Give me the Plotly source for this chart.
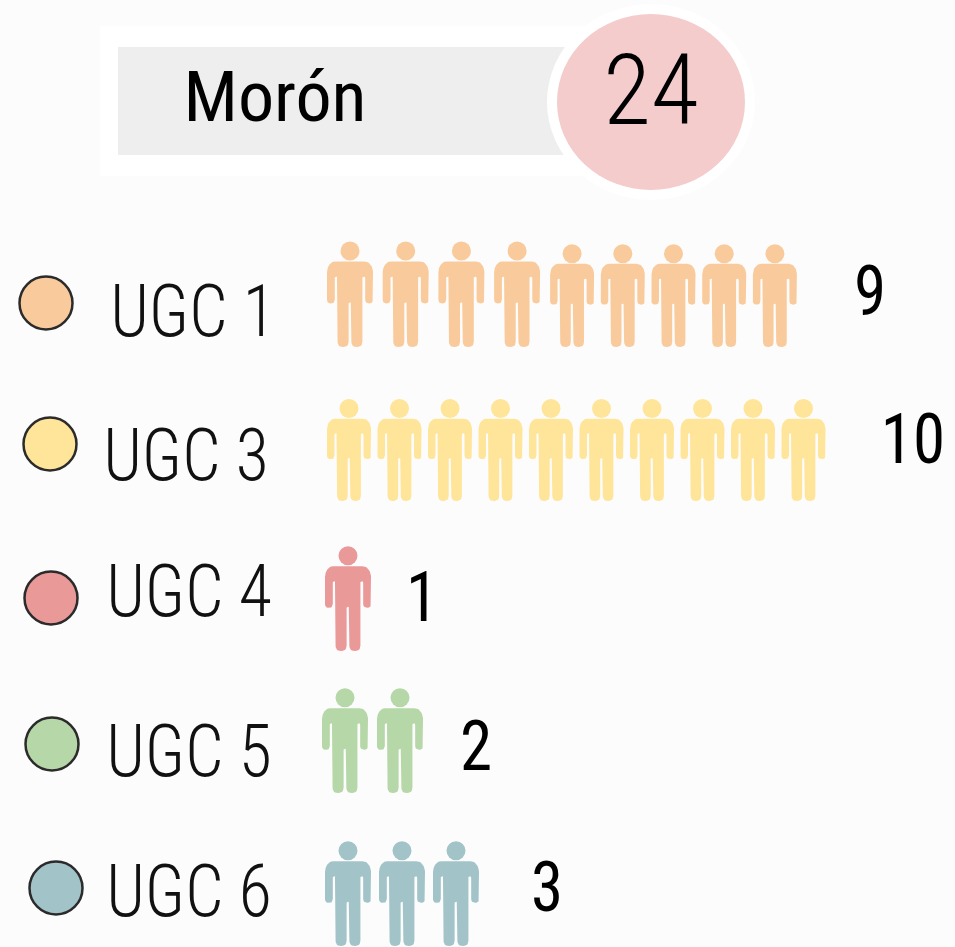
import math
import plotly.graph_objects as go

# ---- data ----
title = "Morón"
total = 24
categories = ["UGC 1", "UGC 3", "UGC 4", "UGC 5", "UGC 6"]
counts = [9, 10, 1, 2, 3]
colors = ["#f9cb9c", "#ffe599", "#ea9999", "#b6d7a8", "#a2c4c9"]

# ---- layout (pixels on a 955x947 canvas) ----
W, H = 955, 947
FONT = "Roboto Condensed, Roboto"
dot_x = [46, 50, 51, 52, 56]
dot_y = [303, 444, 598, 744, 888]
label_x = [193, 186, 189, 189, 189]
label_y = [318, 462, 598, 758, 898]
num_x = [870, 913, 422, 476, 547]
num_y = [297, 445, 603, 752, 893]
icon_start = [350, 349, 348, 345, 348]
icon_pitch = [55.7, 50.5, 0, 55, 54]
icon_feet = [347, 501, 651, 793, 946]
icon_w = [46, 44, 46, 46, 46]
icon_h = [105, 101, 104, 104, 104]


def rounded(corners, r):
    """Round the corners of a closed polygon."""
    xs, ys = [], []
    n = len(corners)
    for i, (cx, cy) in enumerate(corners):
        ax, ay = corners[i - 1]
        bx, by = corners[(i + 1) % n]
        la = math.hypot(ax - cx, ay - cy)
        lb = math.hypot(bx - cx, by - cy)
        rr = min(r, la / 2, lb / 2)
        p0 = (cx + (ax - cx) / la * rr, cy + (ay - cy) / la * rr)
        p2 = (cx + (bx - cx) / lb * rr, cy + (by - cy) / lb * rr)
        for k in range(7):
            t = k / 6
            xs.append((1 - t) ** 2 * p0[0] + 2 * t * (1 - t) * cx + t * t * p2[0])
            ys.append((1 - t) ** 2 * p0[1] + 2 * t * (1 - t) * cy + t * t * p2[1])
    xs.append(xs[0])
    ys.append(ys[0])
    return xs, ys


# silhouette in unit box: x in [-.5,.5], y in [0,1] from head top to feet
BODY = [
    (-0.40, 0.185), (0.40, 0.185), (0.5, 0.25), (0.5, 0.585), (0.33, 0.585),
    (0.33, 0.33), (0.27, 0.33), (0.27, 1.0), (0.03, 1.0), (0.03, 0.575),
    (-0.03, 0.575), (-0.03, 1.0), (-0.27, 1.0), (-0.27, 0.33), (-0.33, 0.33),
    (-0.33, 0.585), (-0.5, 0.585), (-0.5, 0.25),
]

fig = go.Figure()

for i, cat in enumerate(categories):
    c = colors[i]
    head_x, head_y = [], []
    for k in range(counts[i]):
        x0 = icon_start[i] + k * icon_pitch[i]
        w, h, feet = icon_w[i], icon_h[i], icon_feet[i]
        if i == 0 and k >= 4:  # the later icons of this row sit closer together
            x0 = icon_start[i] + 3 * icon_pitch[i] + 55 + (k - 4) * 50.7
            w, h = 44, 102
        top = feet - h
        bx, by = rounded([(x0 + px * w, top + py * h) for px, py in BODY], 5.5)
        fig.add_trace(go.Scatter(x=bx, y=by, mode="lines", fill="toself", fillcolor=c,
                                 line=dict(width=0, color=c), hoverinfo="skip"))
        head_x.append(x0)
        head_y.append(top + 0.085 * h)
    fig.add_trace(go.Scatter(x=head_x, y=head_y, mode="markers",
                             marker=dict(size=19, color=c, line=dict(width=0)), hoverinfo="skip"))

fig.add_trace(go.Scatter(
    x=dot_x, y=dot_y, mode="markers",
    marker=dict(size=53, color=colors, line=dict(color="#2b2b2b", width=2.5)),
    hoverinfo="skip"))
fig.add_trace(go.Scatter(
    x=label_x, y=label_y, mode="text", text=categories, textposition="middle center",
    textfont=dict(family=FONT, size=73, color="#111111", weight=300), hoverinfo="skip"))
fig.add_trace(go.Scatter(
    x=num_x, y=num_y, mode="text", text=[str(v) for v in counts], textposition="middle center",
    textfont=dict(family=FONT, size=70, color="#000000"), hoverinfo="skip"))
fig.add_trace(go.Scatter(
    x=[275], y=[103], mode="text", text=[title], textposition="middle center",
    textfont=dict(family=FONT, size=70, color="#000000", weight=400), hoverinfo="skip"))
fig.add_trace(go.Scatter(
    x=[651], y=[99], mode="text", text=[str(total)], textposition="middle center",
    textfont=dict(family=FONT, size=98, color="#000000", weight=300), hoverinfo="skip"))

fig.update_layout(
    width=W, height=H, autosize=False, showlegend=False,
    margin=dict(l=0, r=0, t=0, b=0),
    paper_bgcolor="#fcfcfc", plot_bgcolor="#fcfcfc",
    xaxis=dict(range=[0, W], visible=False, fixedrange=True),
    yaxis=dict(range=[H, 0], visible=False, fixedrange=True),
    shapes=[
        dict(type="rect", x0=100, x1=600, y0=26, y1=176, fillcolor="#ffffff", line_width=0, layer="below"),
        dict(type="rect", x0=118, x1=600, y0=47, y1=155, fillcolor="#eeeeee", line_width=0, layer="below"),
        dict(type="circle", x0=547, x1=755, y0=4, y1=200, fillcolor="#ffffff", line_width=0, layer="below"),
        dict(type="circle", x0=557, x1=745, y0=14, y1=190, fillcolor="#f4cccc", line_width=0, layer="below"),
    ],
)
# No condensed face is installed, so the real text is narrowed to the reference's proportions.
narrow = """
document.body.style.margin='0';document.body.style.background='#fcfcfc';
document.querySelectorAll('.textpoint text').forEach(function(t){
  var s = t.textContent;
  var f = s === %r ? 1.03 : (s === %r ? 1.0 : 0.93);
  t.setAttribute('textLength', t.getComputedTextLength() * f);
  t.setAttribute('lengthAdjust', 'spacingAndGlyphs');
});
""" % (title, str(total))
fig.write_html("out.html", config={"displayModeBar": False}, post_script=narrow)
